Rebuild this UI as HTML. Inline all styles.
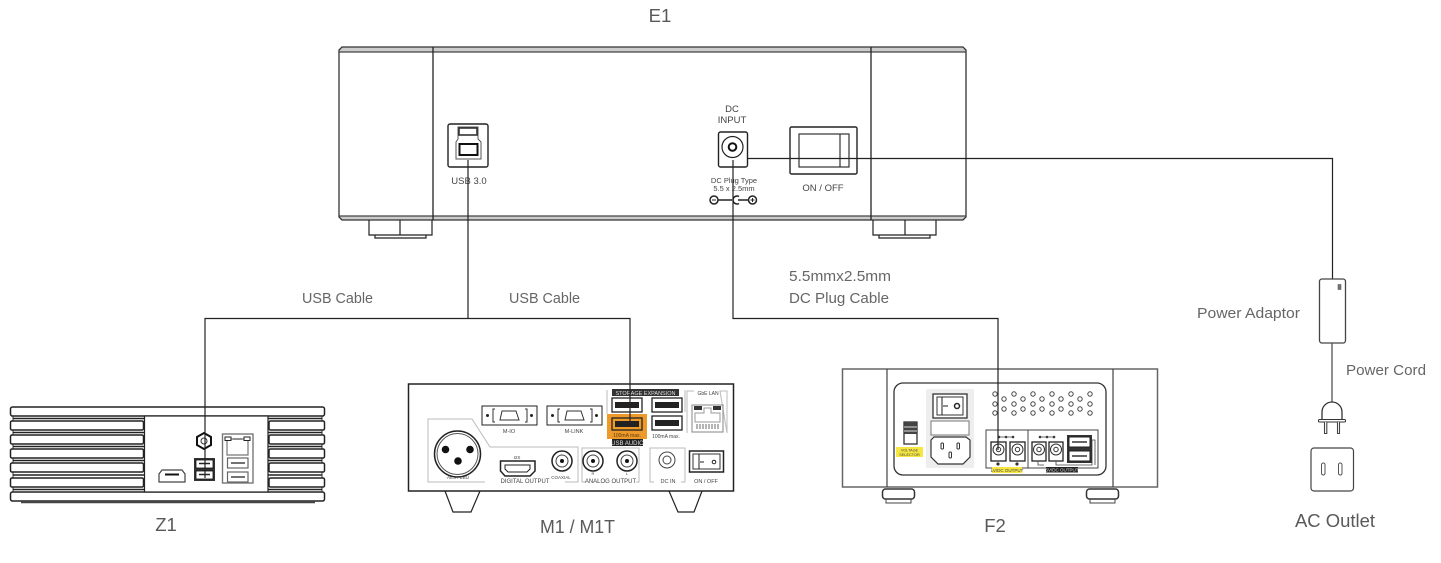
<!DOCTYPE html>
<html><head><meta charset="utf-8"><style>
html,body{margin:0;padding:0;background:#fff}
svg{display:block;filter:blur(.3px)}
text{font-family:"Liberation Sans",sans-serif;fill:#555}
.l{font-size:15px;fill:#666}
.b{font-size:18.500px;fill:#595959;text-anchor:middle}
.s{fill:#444;text-anchor:middle}
.g{fill:none;stroke:#bbb;stroke-width:1}
.k{fill:none;stroke:#222;stroke-width:1.4}
.w{fill:#fff;stroke:#222;stroke-width:1.4}
.c{fill:none;stroke:#222;stroke-width:1.2}
</style></head><body>
<svg width="1441" height="563" viewBox="0 0 1441 563" xmlns="http://www.w3.org/2000/svg">
<rect width="1441" height="563" fill="#fff"/>

<!-- Labels -->
<text x="660" y="22" class="b">E1</text>
<text x="302" y="303" class="l" textLength="71" lengthAdjust="spacingAndGlyphs">USB Cable</text>
<text x="509" y="303" class="l" textLength="71" lengthAdjust="spacingAndGlyphs">USB Cable</text>
<text x="789" y="281" class="l" textLength="102" lengthAdjust="spacingAndGlyphs">5.5mmx2.5mm</text>
<text x="789" y="303" class="l" textLength="100" lengthAdjust="spacingAndGlyphs">DC Plug Cable</text>
<text x="1197" y="318" class="l" textLength="103" lengthAdjust="spacingAndGlyphs">Power Adaptor</text>
<text x="1346" y="375" class="l" textLength="80" lengthAdjust="spacingAndGlyphs">Power Cord</text>
<text x="166" y="531" class="b">Z1</text>
<text x="577.500" y="533" class="b" textLength="75" lengthAdjust="spacingAndGlyphs">M1 / M1T</text>
<text x="995" y="532" class="b">F2</text>
<text x="1335" y="527" class="b" textLength="80" lengthAdjust="spacingAndGlyphs">AC Outlet</text>

<!-- E1 -->
<path d="M342 47H963L966 50V52H339V50Z" fill="#ccc"/>
<path d="M339 216H966V217L963 220H342L339 217Z" fill="#ccc"/>
<path d="M342 47H963L966 50V217L963 220H342L339 217V50Z" fill="none" stroke="#333" stroke-width="1.300"/>
<path d="M339 52H966M339 216H966" stroke="#444" stroke-width="1.200" fill="none"/>
<path d="M433 47V220M871 47V220" stroke="#222" stroke-width="1.300"/>
<path d="M369 220V235H432V220M400 220V235M375 235V238H426V235M873 220V235H936V220M905 220V235M879 235V238H930V235" class="c"/>
<rect x="448" y="124" width="40" height="43" rx="2" class="k" stroke-width="1.800"/>
<path d="M458 127H478V139L481 142V159H456V142L458 139Z" fill="none" stroke="#555" stroke-width="1"/>
<rect x="459" y="128" width="18" height="7" fill="#fff" stroke="#333" stroke-width="1.600"/>
<rect x="459.500" y="144" width="18" height="11" fill="#fff" stroke="#111" stroke-width="2"/>
<text x="469" y="184" class="s" font-size="9.500">USB 3.0</text>
<text x="732" y="112" class="s" font-size="9.500">DC</text>
<text x="732" y="123" class="s" font-size="9.500">INPUT</text>
<rect x="718.500" y="132" width="29" height="35" rx="2" class="k" stroke-width="1.800"/>
<circle cx="732.500" cy="147" r="10.500" class="c" stroke="#444"/>
<circle cx="732.500" cy="147" r="3.800" fill="none" stroke="#111" stroke-width="2"/>
<text x="734" y="183" class="s" font-size="7.500">DC Plug Type</text>
<text x="734" y="191" class="s" font-size="7.500">5.5 x 2.5mm</text>
<g fill="none" stroke="#222" stroke-width="1.500"><circle cx="714" cy="200" r="4"/><circle cx="752.500" cy="200" r="4"/><path d="M718 200H732M738 200H748.500M739 196.500A4 4 0 1 0 739 203.500"/><path d="M712 200H716" stroke-width="1"/><path d="M750.500 200H754.500M752.500 198V202" stroke-width="1"/></g>
<rect x="790" y="127" width="67" height="47" rx="1.500" class="k" stroke-width="2"/>
<rect x="799" y="134" width="50" height="33" fill="none" stroke="#333" stroke-width="1.200"/>
<path d="M840 134V167" stroke="#333" stroke-width="1.200"/>
<text x="823" y="191" class="s" font-size="9.500">ON / OFF</text>

<!-- Z1 -->
<g fill="#fff" stroke="#222" stroke-width="1.500">
<path d="M13 416V492M322 416V492" stroke="#333" stroke-width="1"/>
<rect x="10.500" y="407" width="314" height="9" rx="2"/>
<rect x="10.500" y="421" width="133" height="9" rx="1.500"/>
<rect x="10.500" y="435" width="133" height="9" rx="1.500"/>
<rect x="10.500" y="449" width="133" height="9" rx="1.500"/>
<rect x="10.500" y="463" width="133" height="9" rx="1.500"/>
<rect x="10.500" y="478" width="133" height="9" rx="1.500"/>
<rect x="269" y="421" width="55.500" height="9" rx="1.500"/>
<rect x="269" y="435" width="55.500" height="9" rx="1.500"/>
<rect x="269" y="449" width="55.500" height="9" rx="1.500"/>
<rect x="269" y="463" width="55.500" height="9" rx="1.500"/>
<rect x="269" y="478" width="55.500" height="9" rx="1.500"/>
<rect x="10.500" y="492" width="314" height="9" rx="2"/>
<rect x="144.500" y="416" width="123.500" height="76" stroke-width="1.200"/>
</g>
<path d="M21 502.500H315" stroke="#444" stroke-width="1.500"/>
<path d="M13 418.500H144M13 432.500H144M13 446.500H144M13 460.500H144M13 475H144M13 489.500H144M268 418.500H322M268 432.500H322M268 446.500H322M268 460.500H322M268 475H322M268 489.500H322" stroke="#222" stroke-width="1.600"/>
<path d="M204 433L211 437V445L204 449L197 445V437Z" fill="#fff" stroke="#111" stroke-width="2"/>
<circle cx="204" cy="441" r="3" fill="#fff" stroke="#333"/>
<rect x="194" y="458" width="21" height="23" fill="#333"/>
<rect x="196" y="460" width="17" height="8" fill="#fff" stroke="#111" stroke-width=".8"/>
<rect x="196" y="471" width="17" height="8" fill="#fff" stroke="#111" stroke-width=".8"/>
<path d="M199 463.500H210M199 474.500H210" stroke="#222" stroke-width="1.500"/>
<path d="M162 470H182L185 474V482H159V474Z" fill="#fff" stroke="#444" stroke-width="1.200"/>
<path d="M165 474.500H179" stroke="#111" stroke-width="2"/>
<rect x="222.500" y="434" width="30.500" height="49" fill="none" stroke="#777" stroke-width="1.400"/>
<path d="M227 439H248V455H227Z" fill="none" stroke="#777" stroke-width="1.200"/>
<rect x="225" y="437" width="6" height="3.500" fill="#fff" stroke="#222"/>
<rect x="244" y="437" width="6" height="3.500" fill="#fff" stroke="#222"/>
<path d="M233 439H242" stroke="#444" stroke-width="1"/>
<rect x="227.500" y="458" width="20.500" height="10" fill="#fff" stroke="#666" stroke-width="1.200"/>
<rect x="227.500" y="472" width="20.500" height="10" fill="#fff" stroke="#666" stroke-width="1.200"/>
<path d="M231 463H245M231 477H245" stroke="#444" stroke-width="1.500"/>

<!-- M1 -->
<path d="M445 491L453 512H471L480 491M669 491L678 512H694L702 491" class="c"/>
<rect x="408.500" y="384" width="325" height="107" fill="#fff" stroke="#222" stroke-width="1.500"/>
<rect x="482" y="406" width="55" height="19" fill="none" stroke="#222" stroke-width="1"/>
<rect x="547" y="406" width="55" height="19" fill="none" stroke="#222" stroke-width="1"/>
<g fill="none" stroke="#333" stroke-width="1">
<path d="M502 411H516L519 420H500Z"/><path d="M567 411H581L584 420H565Z"/>
<path d="M495 409H493V422H495M525 409H527V422H525M560 409H558V422H560M590 409H592V422H590"/>
</g>
<g fill="#222"><circle cx="487.500" cy="415.500" r="1.500"/><circle cx="531.500" cy="415.500" r="1.500"/><circle cx="552.500" cy="415.500" r="1.500"/><circle cx="596.500" cy="415.500" r="1.500"/></g>
<text x="509" y="433" class="s" font-size="5.500">M-IO</text>
<text x="574" y="433" class="s" font-size="5.500">M-LINK</text>
<text x="458" y="479" class="s" font-size="4.500">AES / EBU</text>
<text x="517" y="459" class="s" font-size="4.500">I2S</text>
<text x="561" y="479" class="s" font-size="4.500">COAXIAL</text>
<text x="593" y="475" class="s" font-size="4">R</text>
<text x="627" y="475" class="s" font-size="4">L</text>
<path class="g" d="M485 482H428V419H472L490 447H578V482H565M582 482V448H639V482H636M582 482H585M650 482V448H685V482H681M650 482H654M607 390V414M685 390V412" />
<path class="g" d="M687 433V391H694M720 391H727V433Z"/>
<text x="525" y="483" class="s" font-size="6">DIGITAL OUTPUT</text>
<text x="610.500" y="483" class="s" font-size="6">ANALOG OUTPUT</text>
<text x="668" y="483" class="s" font-size="5.500">DC IN</text>
<text x="706" y="483" class="s" font-size="5.500">ON / OFF</text>
<text x="708" y="395" class="s" font-size="5">GbE LAN</text>
<circle cx="457.500" cy="454" r="23" fill="#fff" stroke="#222" stroke-width="1.500"/>
<circle cx="457.500" cy="454" r="20.500" fill="none" stroke="#555" stroke-width="1"/>
<circle cx="445.500" cy="449.500" r="3.800" fill="#111"/><circle cx="470" cy="449.500" r="3.800" fill="#111"/><circle cx="458" cy="461" r="3.800" fill="#111"/>
<path d="M500.500 461H535V471L530 476H505L500.500 471Z" fill="#fff" stroke="#222" stroke-width="1.500"/>
<path d="M505 465H530V469L527 472H508L505 469Z" fill="none" stroke="#222" stroke-width="1"/>
<g fill="#fff" stroke="#222" stroke-width="1.500"><circle cx="562" cy="461" r="10"/><circle cx="593" cy="461" r="10"/><circle cx="627" cy="461" r="10"/></g>
<g fill="none" stroke="#444"><circle cx="562" cy="461" r="6"/><circle cx="593" cy="461" r="6"/><circle cx="627" cy="461" r="6"/></g>
<g fill="#111"><circle cx="562" cy="461" r="2"/><circle cx="593" cy="461" r="2"/><circle cx="627" cy="461" r="2"/></g>
<circle cx="667" cy="460" r="8" fill="none" stroke="#444"/><circle cx="667" cy="460" r="4" fill="none" stroke="#444"/>
<rect x="689.500" y="451" width="34" height="21" fill="#fff" stroke="#222" stroke-width="1.500"/>
<rect x="693" y="454" width="27" height="15" fill="none" stroke="#333"/>
<path d="M699 454V469M700 462H704" stroke="#222"/><circle cx="714" cy="462" r="1.800" fill="none" stroke="#222"/>
<rect x="607" y="414" width="40" height="25" fill="#ee9a2a"/>
<rect x="612" y="389" width="67" height="7" fill="#333"/>
<text x="645.500" y="395" class="s" font-size="5.500" style="fill:#ddd">STORAGE EXPANSION</text>
<rect x="612" y="398" width="30" height="14" fill="#fff" stroke="#222" stroke-width="1.300"/>
<rect x="652" y="398" width="30" height="14" fill="#fff" stroke="#222" stroke-width="1.300"/>
<rect x="652" y="416" width="30" height="14" fill="#fff" stroke="#222" stroke-width="1.300"/>
<rect x="612" y="418" width="30" height="12" fill="#ee9a2a" stroke="#222" stroke-width="1.300"/>
<rect x="615" y="402" width="24" height="6" fill="#222"/><rect x="655" y="402" width="24" height="6" fill="#222"/><rect x="655" y="420" width="24" height="6" fill="#222"/><rect x="615" y="421" width="24" height="6" fill="#222"/>
<text x="627" y="437" class="s" font-size="5" style="fill:#5a3a10">100mA max.</text>
<text x="666" y="438" class="s" font-size="5">100mA max.</text>
<rect x="612" y="439" width="31" height="7" fill="#222"/>
<text x="627.500" y="445" class="s" font-size="6" style="fill:#ddd">USB AUDIO</text>
<rect x="692" y="405" width="31" height="27" fill="none" stroke="#999" stroke-width="1.200"/>
<rect x="694" y="406" width="8" height="4" fill="#333"/><rect x="713" y="406" width="8" height="4" fill="#333"/>
<path d="M704 408H711V413H720V422H695V413H704Z" fill="none" stroke="#999"/>
<path d="M697 424V429M700 424V429M703 424V429M706 424V429M709 424V429M712 424V429M715 424V429M718 424V429" stroke="#444" stroke-width=".8"/>

<!-- F2 -->
<rect x="882.500" y="489" width="32" height="10" rx="3" fill="#fff" stroke="#333" stroke-width="1.500"/>
<rect x="1086.500" y="489" width="32" height="10" rx="3" fill="#fff" stroke="#333" stroke-width="1.500"/>
<path d="M885 487H912M1089 487H1116M886 499V503H911V499M1090 499V503H1115V499" stroke="#444" fill="none"/>
<rect x="842.500" y="369" width="315" height="118" fill="#fff" stroke="#666" stroke-width="1.500"/>
<path d="M887 369V487M1113 369V487" stroke="#444" stroke-width="1.200"/>
<rect x="894" y="383" width="212" height="92" rx="9" fill="none" stroke="#333" stroke-width="1.300"/>
<rect x="904" y="422" width="13" height="22" fill="#fff" stroke="#333" stroke-width="1.300"/>
<rect x="904.500" y="422" width="12" height="12" fill="#444"/><path d="M904 427H917M904 431H917" stroke="#ddd"/>
<rect x="896" y="447" width="27" height="10" fill="#f5e642"/>
<text x="909.500" y="451.500" class="s" font-size="3.800">VOLTAGE</text><text x="909.500" y="456" class="s" font-size="3.800">SELECTOR</text>
<rect x="926" y="389" width="48" height="79" rx="2" fill="#eee"/>
<rect x="933" y="394" width="34" height="24" fill="#fff" stroke="#333" stroke-width="1.300"/>
<rect x="937" y="397" width="26" height="18" fill="#fff" stroke="#333"/>
<path d="M942 397V415M943 406H948" stroke="#222"/><circle cx="957" cy="406" r="2.500" fill="none" stroke="#222" stroke-width="1.500"/>
<rect x="931" y="421" width="38" height="14" fill="#fff" stroke="#777"/>
<path d="M931 440L934 437H966L970 440V457L963 464H938L931 457Z" fill="#fff" stroke="#333" stroke-width="1.200"/>
<g fill="#fff" stroke="#333"><rect x="941" y="443" width="2.500" height="6" rx="1"/><rect x="957" y="443" width="2.500" height="6" rx="1"/><rect x="949" y="452" width="2.500" height="6" rx="1"/></g>
<g fill="none" stroke="#444" stroke-width="1">
<circle cx="995" cy="394" r="2.200"/><circle cx="995" cy="404" r="2.200"/><circle cx="995" cy="413" r="2.200"/>
<circle cx="1004" cy="399" r="2.200"/><circle cx="1004" cy="409" r="2.200"/>
<circle cx="1014" cy="394" r="2.200"/><circle cx="1014" cy="404" r="2.200"/><circle cx="1014" cy="413" r="2.200"/>
<circle cx="1023" cy="399" r="2.200"/><circle cx="1023" cy="409" r="2.200"/>
<circle cx="1033" cy="394" r="2.200"/><circle cx="1033" cy="404" r="2.200"/><circle cx="1033" cy="413" r="2.200"/>
<circle cx="1042" cy="399" r="2.200"/><circle cx="1042" cy="409" r="2.200"/>
<circle cx="1052" cy="394" r="2.200"/><circle cx="1052" cy="404" r="2.200"/><circle cx="1052" cy="413" r="2.200"/>
<circle cx="1061" cy="399" r="2.200"/><circle cx="1061" cy="409" r="2.200"/>
<circle cx="1071" cy="394" r="2.200"/><circle cx="1071" cy="404" r="2.200"/><circle cx="1071" cy="413" r="2.200"/>
<circle cx="1080" cy="399" r="2.200"/><circle cx="1080" cy="409" r="2.200"/>
<circle cx="1090" cy="394" r="2.200"/><circle cx="1090" cy="404" r="2.200"/><circle cx="1090" cy="413" r="2.200"/>
</g>
<rect x="986" y="430" width="112" height="38" fill="none" stroke="#444" stroke-width="1"/>
<path d="M1028 430V468" stroke="#444"/>
<g fill="#fff" stroke="#222" stroke-width="1.300"><rect x="991" y="442" width="15" height="19"/><rect x="1010" y="442" width="15" height="19"/><rect x="1032" y="442" width="14" height="19"/><rect x="1049" y="442" width="14" height="19"/></g>
<g fill="none" stroke="#333"><circle cx="998.500" cy="449.500" r="5.500"/><circle cx="1017.500" cy="449.500" r="5.500"/><circle cx="1039" cy="449.500" r="5.500"/><circle cx="1056" cy="449.500" r="5.500"/><circle cx="998.500" cy="449.500" r="2.200"/><circle cx="1017.500" cy="449.500" r="2.200"/><circle cx="1039" cy="449.500" r="2.200"/><circle cx="1056" cy="449.500" r="2.200"/></g>
<g fill="#333"><circle cx="998" cy="464" r="1.600"/><circle cx="1017" cy="464" r="1.600"/><circle cx="999" cy="437" r="1.300"/><circle cx="1006" cy="437" r="1.300"/><circle cx="1013" cy="437" r="1.300"/><circle cx="1040" cy="437" r="1.300"/><circle cx="1047" cy="437" r="1.300"/><circle cx="1054" cy="437" r="1.300"/></g>
<path d="M999 437H1013M1040 437H1054M1038 461V465H1044M1056 461V465H1092V440H1095V465" fill="none" stroke="#444" stroke-width=".8"/>
<rect x="1067" y="435" width="25" height="28" fill="#333"/>
<rect x="1069" y="437" width="21" height="10" fill="#fff" stroke="#222"/>
<rect x="1069" y="451" width="21" height="10" fill="#fff" stroke="#222"/>
<path d="M1072 442H1087M1072 456H1087" stroke="#333" stroke-width="1.500"/>
<rect x="992" y="467" width="30" height="6" fill="#f5e642"/>
<text x="1007" y="472" class="s" font-size="4.500">LV/DC OUTPUT</text>
<rect x="1046" y="467" width="32" height="5.500" fill="#222"/>
<text x="1062" y="471.500" class="s" font-size="4.500" style="fill:#ddd">5V/DC OUTPUT</text>

<!-- Connectors -->
<g fill="none" stroke="#222" stroke-width="1.200">
<path d="M468 160V318.500M205 478V318.500H630V425"/>
<path d="M733 160V318.500H998V450"/>
<path d="M747 158.500H1332.500V279"/>
</g>

<!-- Power -->
<rect x="1319.500" y="279" width="26" height="64" rx="2.500" fill="#fff" stroke="#444" stroke-width="1.300"/>
<rect x="1338" y="284.500" width="3" height="5" fill="#777" stroke="#444" stroke-width=".5"/>
<path d="M1332 343V402" stroke="#555" stroke-width="1.300"/>
<path d="M1322 420V412A10 10 0 0 1 1342 412V420" fill="#fff" stroke="#333" stroke-width="1.300"/>
<rect x="1318.500" y="419.500" width="27" height="2.500" rx="1" fill="#fff" stroke="#333"/>
<path d="M1324.500 422V433.500H1326.800V422M1337.500 422V433.500H1339.500V422" fill="#fff" stroke="#444" stroke-width="1.100"/>
<rect x="1311" y="448" width="42.500" height="43" rx="3" fill="#fff" stroke="#444" stroke-width="1.200"/>
<rect x="1321.500" y="463" width="3.500" height="12" rx="1.700" fill="#fff" stroke="#555"/>
<rect x="1338.500" y="463" width="3.500" height="12" rx="1.700" fill="#fff" stroke="#555"/>
</svg>
</body></html>
